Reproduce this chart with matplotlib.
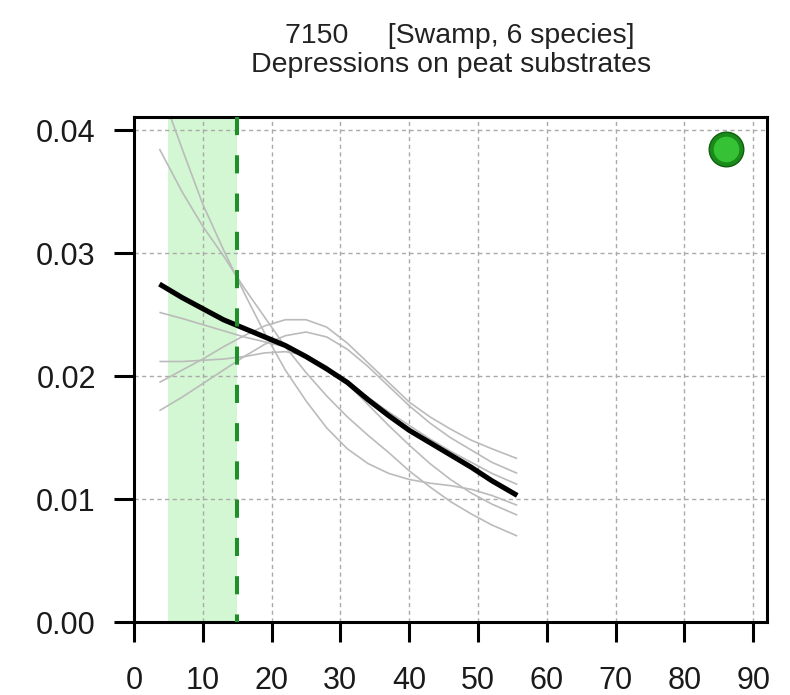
import matplotlib
matplotlib.use("Agg")
import matplotlib.pyplot as plt

plt.rcParams['font.family'] = ['Liberation Sans', 'DejaVu Sans']

# ---- data ----
x_vals = [3.7, 7, 10, 13, 16, 19, 22, 25, 28, 31, 34, 37, 40, 43, 46, 49, 52, 55.7]

species_a = [0.0436, 0.0385, 0.0340, 0.0303, 0.0268, 0.0235, 0.0205, 0.0180, 0.0158,
             0.0141, 0.0129, 0.0121, 0.0116, 0.0113, 0.0111, 0.0108, 0.0103, 0.0095]
species_b = [0.0385, 0.0350, 0.0322, 0.0298, 0.0272, 0.0248, 0.0224, 0.0203, 0.0184,
             0.0167, 0.0152, 0.0138, 0.0123, 0.0110, 0.0098, 0.0088, 0.0079, 0.0070]
species_c = [0.0252, 0.0247, 0.0242, 0.0237, 0.0232, 0.0228, 0.0224, 0.0217, 0.0207,
             0.0195, 0.0183, 0.0171, 0.0160, 0.0149, 0.0139, 0.0130, 0.0121, 0.0112]
species_d = [0.0212, 0.0212, 0.0213, 0.0214, 0.0216, 0.0219, 0.0220, 0.0217, 0.0208,
             0.0194, 0.0177, 0.0160, 0.0144, 0.0129, 0.0116, 0.0105, 0.0096, 0.0087]
species_e = [0.0195, 0.0205, 0.0214, 0.0224, 0.0233, 0.0241, 0.0246, 0.0246, 0.0240,
             0.0227, 0.0211, 0.0195, 0.0179, 0.0167, 0.0157, 0.0148, 0.0141, 0.0133]
species_f = [0.0172, 0.0183, 0.0194, 0.0205, 0.0216, 0.0226, 0.0233, 0.0236, 0.0232,
             0.0222, 0.0208, 0.0192, 0.0176, 0.0162, 0.0150, 0.0140, 0.0130, 0.0121]
mean_curve = [0.0275, 0.0264, 0.0255, 0.0246, 0.0239, 0.0232, 0.0225, 0.0216, 0.0206,
              0.0195, 0.0181, 0.0168, 0.0156, 0.0146, 0.0136, 0.0126, 0.0115, 0.0103]

shade_range = [5, 15]
threshold = 15
dot_x = [86.1]
dot_y = [0.0385]

x_ticks = [0, 10, 20, 30, 40, 50, 60, 70, 80, 90]
y_ticks = [0.00, 0.01, 0.02, 0.03, 0.04]
y_tick_labels = ["0.00", "0.01", "0.02", "0.03", "0.04"]
x_lim = [0, 92]
y_lim = [0, 0.0411]

title_1 = "7150     [Swamp, 6 species]"
title_2 = "Depressions on peat substrates"

# ---- figure ----
fig = plt.figure(figsize=(7.9, 6.95), dpi=100)
ax = fig.add_axes([0.1696, 0.1050, 0.8013, 0.7267])

ax.axvspan(shade_range[0], shade_range[1], color='#d2f7d2', zorder=0.5, lw=0)

for v in x_ticks[1:]:
    ax.axvline(v, color='#aaaaaa', lw=1.0, ls=(0, (3, 2.5)), zorder=1)
for v in y_ticks[1:]:
    ax.axhline(v, color='#aaaaaa', lw=1.0, ls=(0, (3, 2.5)), zorder=1)

for s in [species_a, species_b, species_c, species_d, species_e, species_f]:
    ax.plot(x_vals, s, color='#bbbbbb', lw=1.2, zorder=2, solid_capstyle='butt',
            solid_joinstyle='round')

ax.plot(x_vals, mean_curve, color='black', lw=3.7, zorder=3, solid_capstyle='butt',
        solid_joinstyle='round')

ax.plot([threshold, threshold], [y_lim[1], y_lim[0]], color='#1f8f2a', lw=2.9,
        dashes=(4.5, 5), zorder=4)

ax.scatter(dot_x, dot_y, s=620, color='#1a8a1a', edgecolor='#0f5f0f', lw=1.0, zorder=5, clip_on=False)
ax.scatter(dot_x, dot_y, s=340, color='#35c235', lw=0, zorder=6, clip_on=False)

ax.set_xlim(x_lim)
ax.set_ylim(y_lim)
ax.set_xticks(x_ticks)
ax.set_yticks(y_ticks)
ax.set_yticklabels(y_tick_labels)

for sp in ax.spines.values():
    sp.set_linewidth(2.2)
    sp.set_color('black')

ax.tick_params(direction='out', length=14.5, width=2.2, labelsize=22, colors='black')
ax.tick_params(axis='x', pad=17)
ax.tick_params(axis='y', pad=13)
for lab in ax.get_xticklabels() + ax.get_yticklabels():
    lab.set_color('#1a1a1a')

fig.text(0.5823, 1 - 43.3 / 695, title_1, ha='center', va='baseline', fontsize=20.5, color='#222222')
fig.text(0.5709, 1 - 71.7 / 695, title_2, ha='center', va='baseline', fontsize=20.5, color='#222222')

fig.savefig("out.png", dpi=100)
